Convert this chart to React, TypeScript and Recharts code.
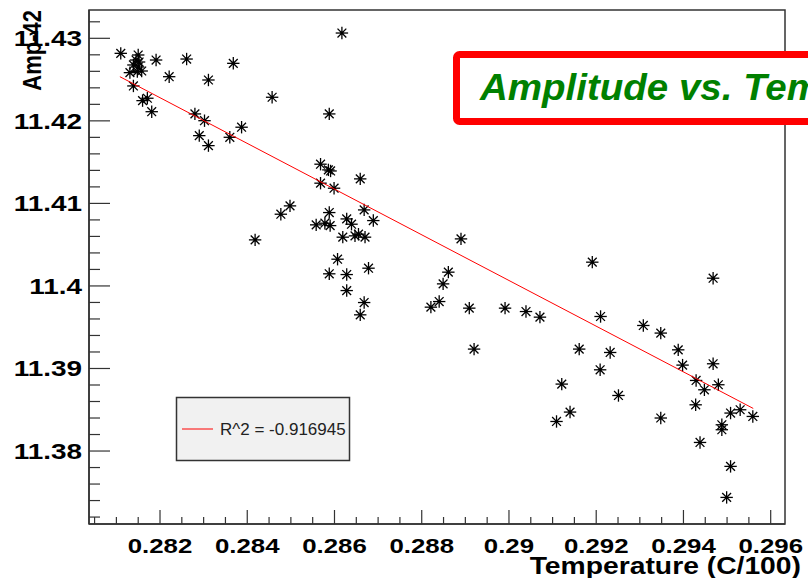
import React from 'react';
import { ScatterChart, Scatter, XAxis, YAxis } from 'recharts';

// Measured points: temperature (C/100) and amplitude
const temperature = [
  0.28110, 0.28150, 0.28145, 0.28152, 0.28139, 0.28150, 0.28131, 0.28148, 0.28158, 0.28191,
  0.28261, 0.28368, 0.28221, 0.28311, 0.28457, 0.28139, 0.28160, 0.28171, 0.28181, 0.28280,
  0.28302, 0.28387, 0.28290, 0.28360, 0.28311, 0.28617, 0.28588, 0.28568, 0.28586, 0.28591,
  0.28659, 0.28568, 0.28599, 0.28498, 0.28477, 0.28588, 0.28668, 0.28689, 0.28628, 0.28558,
  0.28578, 0.28590, 0.28639, 0.28619, 0.28647, 0.28655, 0.28670, 0.28418, 0.28607, 0.28678,
  0.28588, 0.28628, 0.28628, 0.28668, 0.28659, 0.28890, 0.28861, 0.28849, 0.28840, 0.28821,
  0.28909, 0.28991, 0.29039, 0.29071, 0.28920, 0.29191, 0.29210, 0.29161, 0.29232, 0.29209,
  0.29121, 0.29251, 0.29468, 0.29308, 0.29348, 0.29388, 0.29398, 0.29468, 0.29429, 0.29448,
  0.29480, 0.29428, 0.29109, 0.29140, 0.29348, 0.29508, 0.29530, 0.29559, 0.29488, 0.29488,
  0.29438, 0.29508, 0.29499,
];
const amplitude = [
  11.42818, 11.42798, 11.42737, 11.42713, 11.42677, 11.42653, 11.42584, 11.42596, 11.42604, 11.42737,
  11.42749, 11.42697, 11.42535, 11.42495, 11.42286, 11.42423, 11.42245, 11.42274, 11.42111, 11.42084,
  11.42002, 11.41923, 11.41821, 11.41801, 11.41700, 11.43064, 11.42084, 11.41475, 11.41406, 11.41393,
  11.41297, 11.41245, 11.41184, 11.40970, 11.40869, 11.40889, 11.40921, 11.40792, 11.40812, 11.40740,
  11.40760, 11.40731, 11.40748, 11.40591, 11.40607, 11.40627, 11.40591, 11.40558, 11.40324, 11.40215,
  11.40147, 11.40138, 11.39944, 11.39799, 11.39650, 11.40570, 11.40167, 11.40025, 11.39811, 11.39743,
  11.39731, 11.39731, 11.39690, 11.39622, 11.39235, 11.40288, 11.39630, 11.39235, 11.39194, 11.38984,
  11.38811, 11.38673, 11.40094, 11.39521, 11.39429, 11.39226, 11.39041, 11.39057, 11.38855, 11.38742,
  11.38803, 11.38560, 11.38358, 11.38472, 11.38400, 11.38460, 11.38500, 11.38419, 11.38318, 11.38258,
  11.38104, 11.37814, 11.37438,
];

// Linear fit end points
const fitTemperature = [0.28108, 0.2956];
const fitAmplitude = [11.42535, 11.38516];
const fitLabel = 'R^2 = -0.916945';

// Axes
const xDomain = [0.280372, 0.296328];
const yDomain = [11.37116, 11.43343];
const xMajorTicks = [0.282, 0.284, 0.286, 0.288, 0.29, 0.292, 0.294, 0.296];
const xTickLabels = ['0.282', '0.284', '0.286', '0.288', '0.29', '0.292', '0.294', '0.296'];
const yMajorTicks = [11.38, 11.39, 11.4, 11.41, 11.42, 11.43];
const yTickLabels = ['11.38', '11.39', '11.4', '11.41', '11.42', '11.43'];
const xMinorStep = 0.0005;
const yMinorStep = 0.002;

const xTitle = 'Temperature (C/100)';
const yTitle = 'Amp-42';
const chartTitle = 'Amplitude vs. Temperature';

const points = temperature.map((t, i) => ({ t, a: amplitude[i] }));
const fitData = fitTemperature.map((t, i) => ({ t, a: fitAmplitude[i] }));

function buildTicks(start: number, step: number, max: number, digits: number) {
  const out: number[] = [];
  for (let i = 0; ; i++) {
    const v = +(start + i * step).toFixed(digits);
    if (v > max) break;
    out.push(v);
  }
  return out;
}
const xTicks = buildTicks(0.2805, xMinorStep, xDomain[1], 4);
const yTicks = buildTicks(11.372, yMinorStep, yDomain[1], 3);

const FONT = "'Liberation Sans', Arial, sans-serif";
const AXIS = '#333';

const XTick = (props: any) => {
  const { x, y, payload } = props;
  const idx = xMajorTicks.findIndex((m) => Math.abs(m - payload.value) < 1e-7);
  const major = idx >= 0;
  return (
    <g>
      <line x1={x} y1={y} x2={x} y2={y - (major ? 14 : 7)} stroke={AXIS} strokeWidth={1.2} />
      {major && (
        <text
          transform={`translate(${x},${y + 29}) scale(1.23,1)`}
          textAnchor="middle"
          fontFamily={FONT}
          fontWeight="bold"
          fontSize={21}
          fill="#000"
        >
          {xTickLabels[idx]}
        </text>
      )}
    </g>
  );
};

const YTick = (props: any) => {
  const { x, y, payload } = props;
  const idx = yMajorTicks.findIndex((m) => Math.abs(m - payload.value) < 1e-7);
  const major = idx >= 0;
  return (
    <g>
      <line x1={x} y1={y} x2={x + (major ? 21 : 11)} y2={y} stroke={AXIS} strokeWidth={1.2} />
      {major && (
        <text
          transform={`translate(${x - 7},${y + 8}) scale(1.27,1)`}
          textAnchor="end"
          fontFamily={FONT}
          fontWeight="bold"
          fontSize={22}
          fill="#000"
        >
          {yTickLabels[idx]}
        </text>
      )}
    </g>
  );
};

const Star = (props: any) => {
  const { cx, cy } = props;
  if (cx == null || cy == null) return <g />;
  const r = 6.2;
  const d = 4.4;
  return (
    <g stroke="#000" strokeWidth={1.3}>
      <line x1={cx - r} y1={cy} x2={cx + r} y2={cy} />
      <line x1={cx} y1={cy - r} x2={cx} y2={cy + r} />
      <line x1={cx - d} y1={cy - d} x2={cx + d} y2={cy + d} />
      <line x1={cx - d} y1={cy + d} x2={cx + d} y2={cy - d} />
      <circle cx={cx} cy={cy} r={1.7} fill="#000" stroke="none" />
    </g>
  );
};

const NoShape = () => <g />;

export default function App() {
  return (
    <div
      style={{
        position: 'absolute',
        left: 0,
        top: 0,
        width: 808,
        height: 578,
        overflow: 'hidden',
        background: '#fff',
      }}
    >
      <ScatterChart width={808} height={578} margin={{ top: 10, right: 23, bottom: 0, left: 0 }}>
        <XAxis
          type="number"
          dataKey="t"
          domain={xDomain}
          allowDataOverflow
          ticks={xTicks}
          interval={0}
          tick={<XTick />}
          tickLine={false}
          tickSize={0}
          tickMargin={0}
          height={54}
          axisLine={{ stroke: AXIS, strokeWidth: 1.5 }}
        />
        <YAxis
          type="number"
          dataKey="a"
          domain={yDomain}
          allowDataOverflow
          ticks={yTicks}
          interval={0}
          tick={<YTick />}
          tickLine={false}
          tickSize={0}
          tickMargin={0}
          width={89}
          axisLine={{ stroke: AXIS, strokeWidth: 1.5 }}
        />
        <Scatter data={points} shape={<Star />} isAnimationActive={false} />
        <Scatter
          data={fitData}
          shape={<NoShape />}
          line={{ stroke: '#ff0000', strokeWidth: 1 }}
          isAnimationActive={false}
        />
      </ScatterChart>
      <svg
        width={808}
        height={578}
        style={{ position: 'absolute', left: 0, top: 0, pointerEvents: 'none' }}
      >
        <rect x={89} y={10} width={696} height={514} fill="none" stroke={AXIS} strokeWidth={1.5} />
        <text
          transform="translate(41,10) scale(1.2,1) rotate(-90)"
          textAnchor="end"
          fontFamily={FONT}
          fontWeight="bold"
          fontSize={22}
          fill="#000"
        >
          {yTitle}
        </text>
        <text
          transform="translate(801,574) scale(1.23,1)"
          textAnchor="end"
          fontFamily={FONT}
          fontWeight="bold"
          fontSize={23}
          fill="#000"
        >
          {xTitle}
        </text>
        <rect x={456.5} y={54.5} width={420} height={67} rx={3} fill="#fff" stroke="#ff0000" strokeWidth={7} />
        <text
          transform="translate(480,100) scale(1.07,1)"
          fontFamily={FONT}
          fontWeight="bold"
          fontStyle="italic"
          fontSize={36}
          fill="#008000"
        >
          {chartTitle}
        </text>
        <rect x={176.5} y={397.5} width={173} height={63} fill="#f1f1f1" stroke="#333" strokeWidth={1.5} />
        <line x1={182} y1={429} x2={213} y2={429} stroke="#ff0000" strokeWidth={1} />
        <text x={220} y={435} fontFamily={FONT} fontSize={17} fill="#222">
          {fitLabel}
        </text>
      </svg>
    </div>
  );
}
